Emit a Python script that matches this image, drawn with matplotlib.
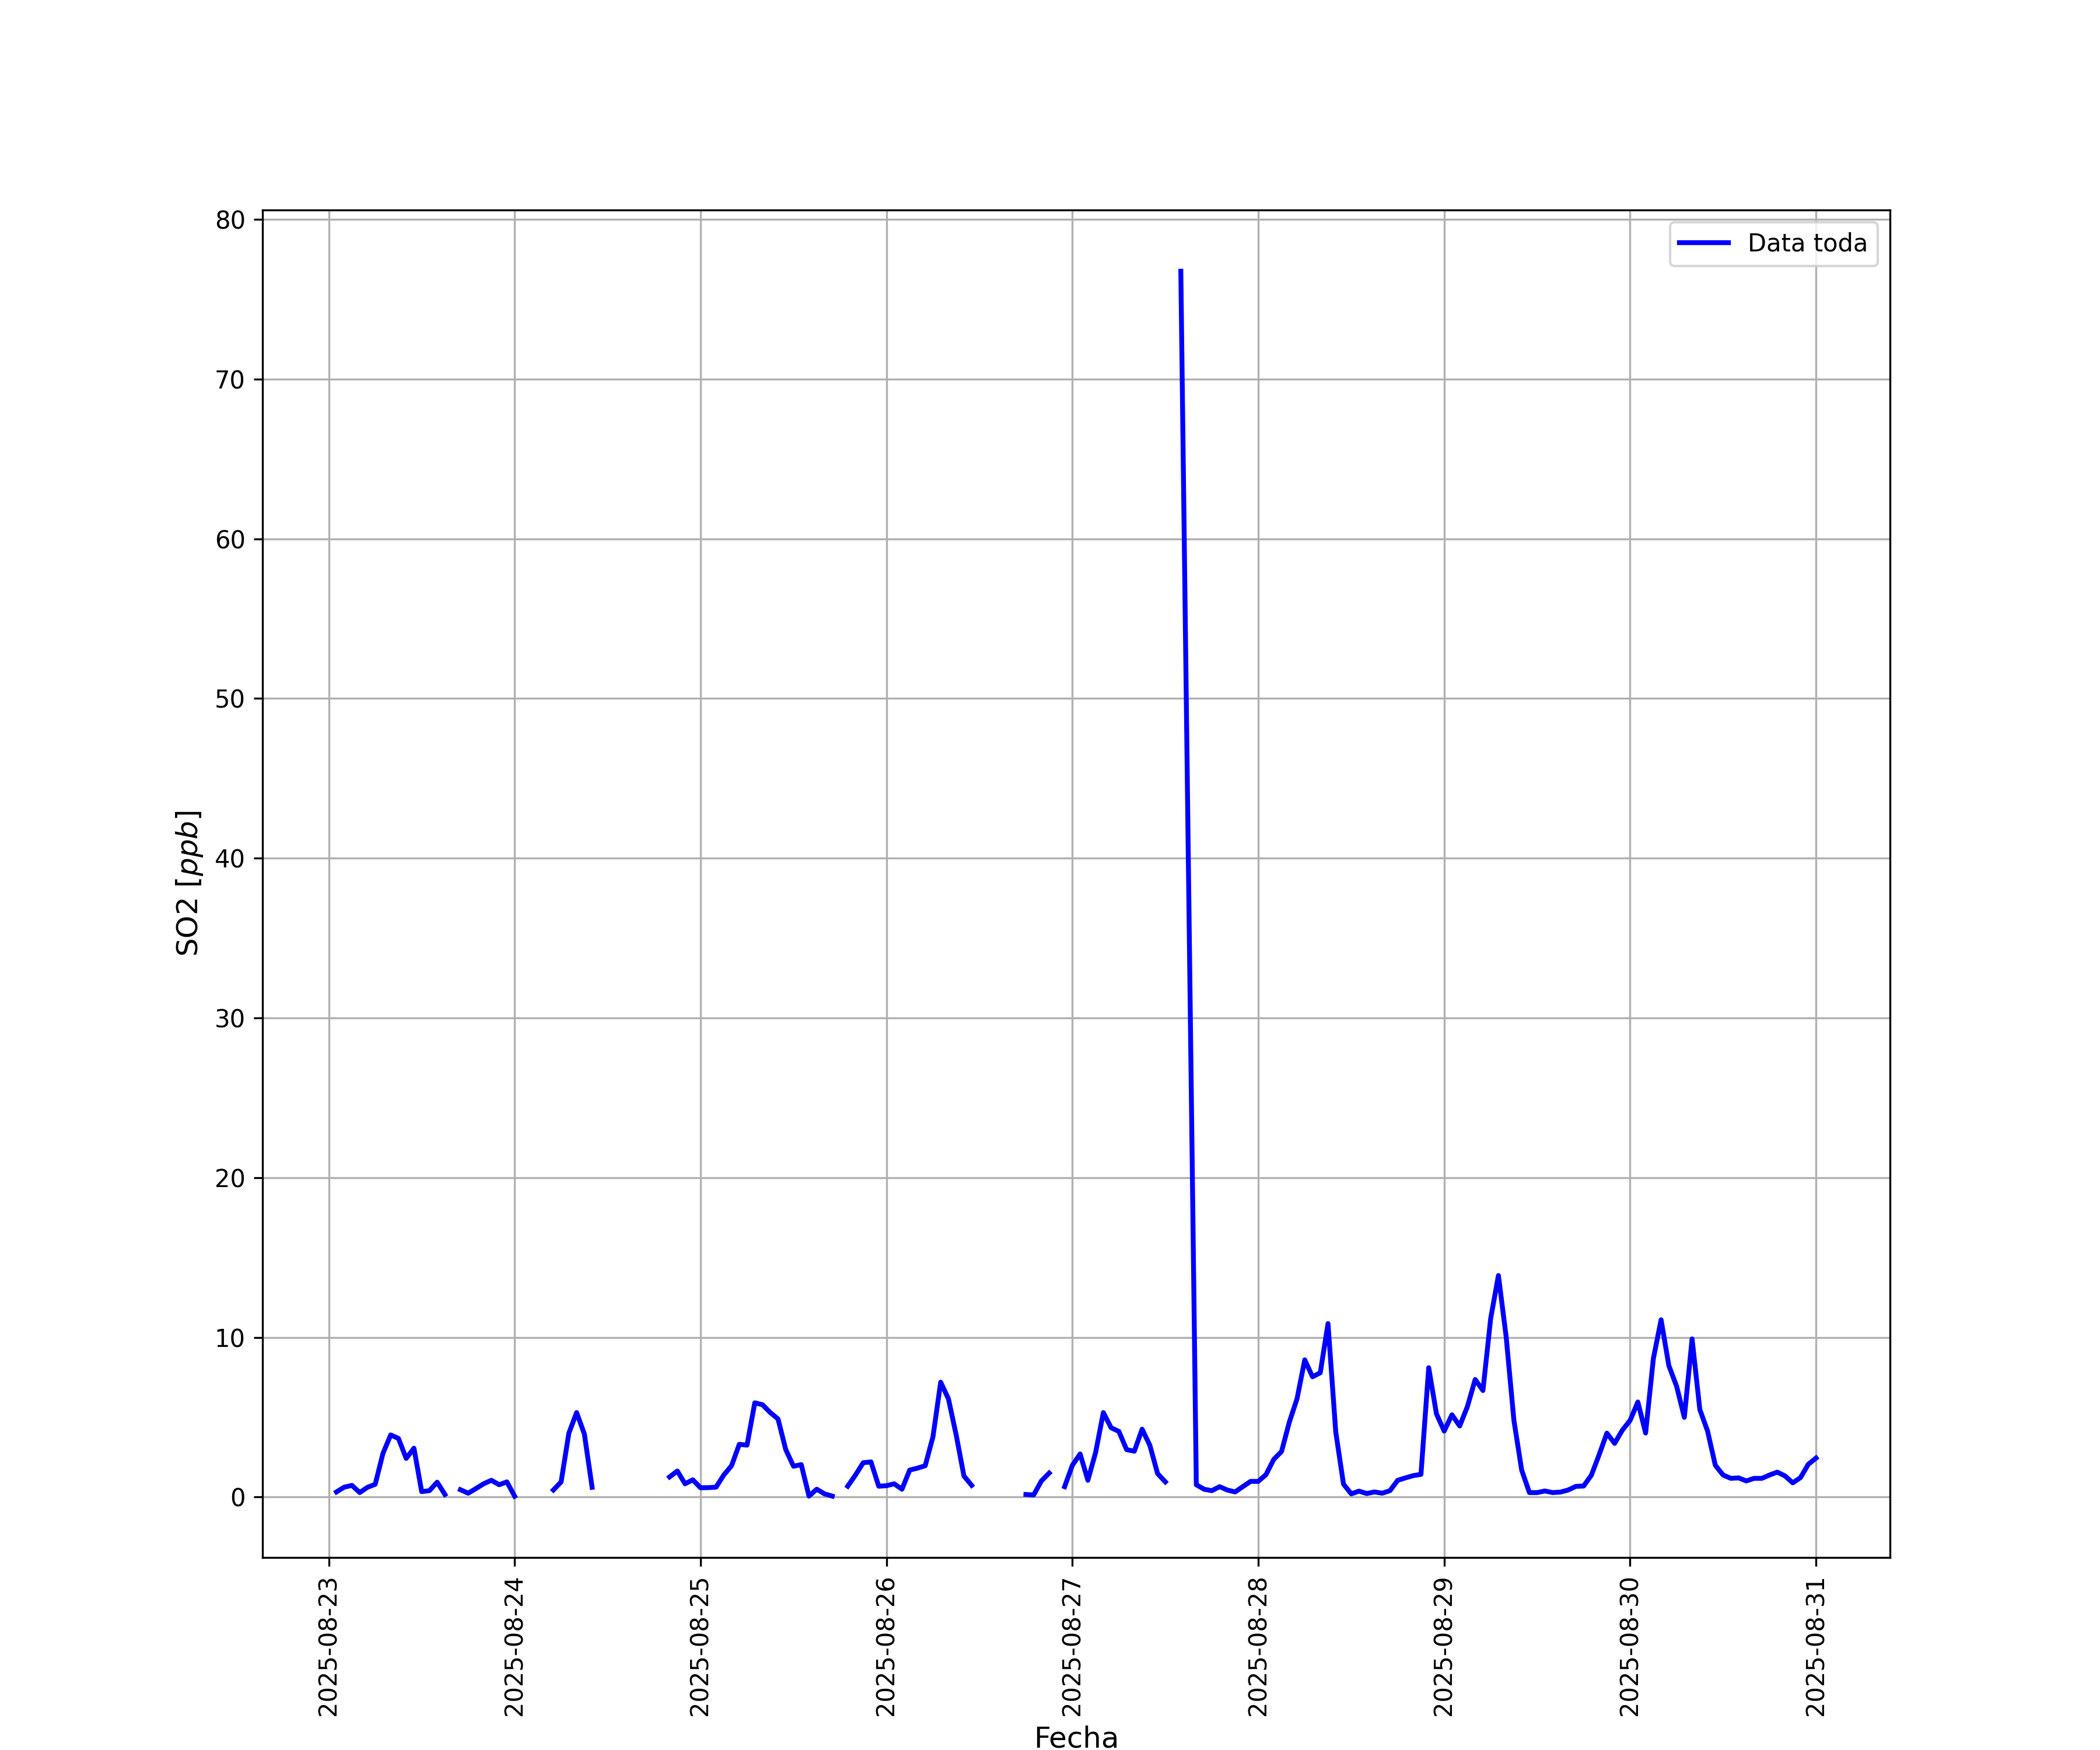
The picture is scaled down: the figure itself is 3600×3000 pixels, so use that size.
import numpy as np
import pandas as pd
import matplotlib
matplotlib.use("Agg")
import matplotlib.pyplot as plt

nan = np.nan

# Hourly SO2 values (ppb), hours 00..23 of each day; NaN = gap in record
d23 = [nan, 0.32, 0.62, 0.73, 0.28, 0.61, 0.80, 2.73, 3.89, 3.67, 2.42, 3.06,
       0.34, 0.40, 0.93, 0.16, nan, 0.46, 0.24, 0.53, 0.83, 1.05, 0.77, 0.95]
d24 = [0.05, nan, nan, nan, nan, 0.44, 0.95, 4.00, 5.29, 3.95, 0.61, nan,
       nan, nan, nan, nan, nan, nan, nan, nan, 1.26, 1.63, 0.83, 1.08]
d25 = [0.58, 0.59, 0.62, 1.38, 1.96, 3.30, 3.25, 5.90, 5.78, 5.29, 4.89, 2.97,
       1.93, 2.03, 0.06, 0.49, 0.20, 0.06, nan, 0.68, 1.38, 2.15, 2.20, 0.68]
d26 = [0.71, 0.83, 0.49, 1.69, 1.81, 1.96, 3.77, 7.19, 6.15, 3.89, 1.32, 0.73,
       nan, nan, nan, nan, nan, nan, 0.16, 0.13, 1.01, 1.50, nan, 0.65]
d27 = [1.99, 2.70, 1.05, 2.79, 5.29, 4.34, 4.11, 2.97, 2.87, 4.25, 3.24, 1.47,
       0.95, nan, 76.75, nan, 0.77, 0.49, 0.40, 0.65, 0.44, 0.32, 0.65, 0.98]
d28 = [0.98, 1.41, 2.36, 2.85, 4.68, 6.15, 8.59, 7.53, 7.78, 10.86, 4.07, 0.81,
       0.20, 0.37, 0.22, 0.32, 0.24, 0.40, 1.05, 1.20, 1.34, 1.42, 8.10, 5.21]
d29 = [4.13, 5.15, 4.45, 5.67, 7.36, 6.67, 11.18, 13.87, 10.03, 4.80, 1.69, 0.28,
       0.28, 0.38, 0.28, 0.31, 0.44, 0.67, 0.69, 1.37, 2.65, 4.00, 3.36, 4.19]
d30 = [4.80, 5.95, 4.01, 8.66, 11.10, 8.23, 6.94, 4.99, 9.90, 5.48, 4.13, 1.99,
       1.38, 1.17, 1.20, 1.01, 1.17, 1.17, 1.38, 1.56, 1.32, 0.89, 1.22, 2.05]
d31 = [2.44]

# rows absent from the record (not NaN) -> line connects across them
missing_rows = ["2025-08-23 00:00", "2025-08-27 15:00"]

values = d23 + d24 + d25 + d26 + d27 + d28 + d29 + d30 + d31
times = pd.date_range("2025-08-23 00:00", periods=len(values), freq="h")
df = pd.DataFrame({"SO2": values}, index=times)
df = df.drop(pd.to_datetime(missing_rows))

fig, ax = plt.subplots(figsize=(12, 10), dpi=300)
ax.plot(df.index, df["SO2"], color="blue", linewidth=2, label="Data toda")
ax.set_xlabel("Fecha", fontsize=12)
ax.set_ylabel("SO2 [$ppb$]", fontsize=12)
ax.grid(True)
ax.legend(loc="upper right")
ax.xaxis.set_major_locator(matplotlib.dates.DayLocator())
ax.xaxis.set_major_formatter(matplotlib.dates.DateFormatter("%Y-%m-%d"))
plt.setp(ax.get_xticklabels(), rotation=90)
fig.savefig("out.png", dpi=300)
